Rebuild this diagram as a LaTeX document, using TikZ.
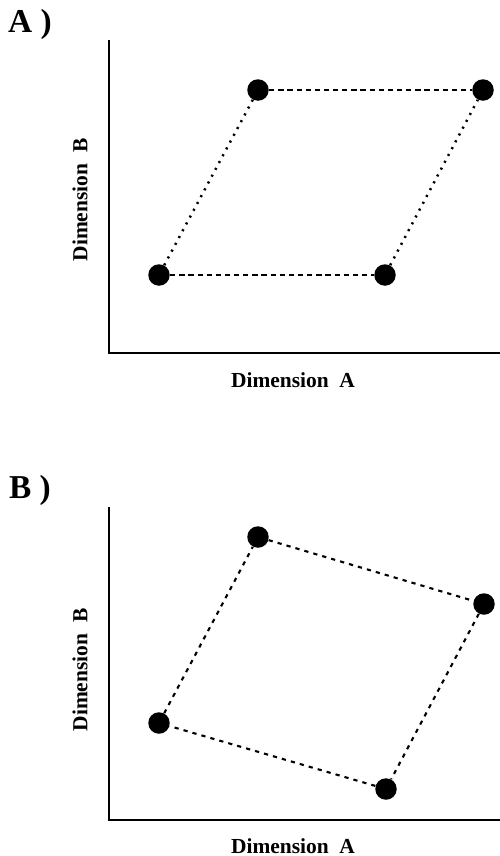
\documentclass[tikz,border=0pt]{standalone}
\usepackage{fontspec}
\setmainfont{Liberation Serif}
\usetikzlibrary{positioning}

\begin{document}
\begin{tikzpicture}[x=0.02cm, y=-0.02cm]

\tikzstyle{dot} = [circle, fill=black, inner sep=0pt, minimum size=0.43cm]
\tikzstyle{axis} = [line width=1.6pt]
\tikzstyle{hdash} = [line width=1.1pt, dash pattern=on 3pt off 2.2pt]
\tikzstyle{sdot} = [line width=1.4pt, dash pattern=on 1.2pt off 3.2pt]
\tikzstyle{bdash} = [line width=1.2pt, dash pattern=on 2.4pt off 2.9pt]
\tikzstyle{lab} = [font=\bfseries\fontsize{12.2}{14}\selectfont]
\tikzstyle{panel} = [font=\bfseries\fontsize{19}{22}\selectfont]

\useasboundingbox (0,0) rectangle (500,856);

% Panel A
\node[panel] (pA) at (30,24) {A )};
\draw[axis] (109,40) -- (109,353) -- (500,353);
\node[lab] (xA) at (293,380) {Dimension\ \ A};
\node[lab, rotate=90] (yA) at (80,200) {Dimension\ \ B};

\node[dot] (a1) at (159,275) {};
\node[dot] (a2) at (258,90) {};
\node[dot] (a3) at (483,90) {};
\node[dot] (a4) at (385,275) {};

\draw[hdash] (a2) -- (a3);
\draw[hdash] (a1) -- (a4);
\draw[sdot] (a1) -- (a2);
\draw[sdot] (a4) -- (a3);

% Panel B
\node[panel] (pB) at (30,490) {B )};
\draw[axis] (109,507) -- (109,820) -- (500,820);
\node[lab] (xB) at (293,846) {Dimension\ \ A};
\node[lab, rotate=90] (yB) at (80,670) {Dimension\ \ B};

\node[dot] (b1) at (159,723) {};
\node[dot] (b2) at (258,537) {};
\node[dot] (b3) at (484,604) {};
\node[dot] (b4) at (386,789) {};

\draw[bdash] (b1) -- (b2);
\draw[bdash] (b2) -- (b3);
\draw[bdash] (b3) -- (b4);
\draw[bdash] (b4) -- (b1);

\end{tikzpicture}
\end{document}
